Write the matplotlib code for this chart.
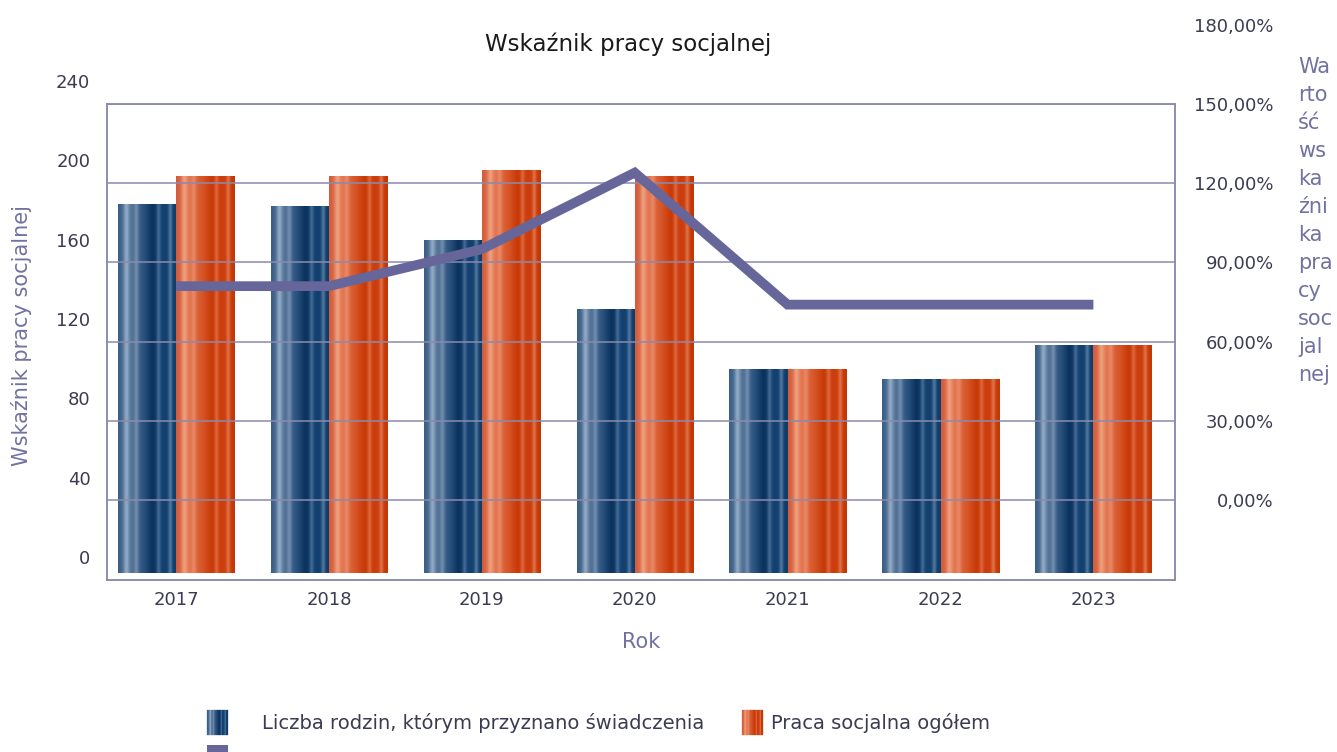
import numpy as np
import matplotlib
matplotlib.use("Agg")
import matplotlib.pyplot as plt
from matplotlib.legend_handler import HandlerBase
from matplotlib.patches import Rectangle

# ---------------- data ----------------
years = ["2017", "2018", "2019", "2020", "2021", "2022", "2023"]
families = [178, 177, 160, 125, 95, 90, 107]          # Liczba rodzin, którym przyznano świadczenia
social_work = [192, 192, 195, 192, 95, 90, 107]       # Praca socjalna ogółem
index_pct = [0.81, 0.81, 0.95, 1.24, 0.74, 0.74, 0.74]  # Wartość wskaźnika pracy socjalnej
left_ticks = [0, 40, 80, 120, 160, 200, 240]
right_ticks = [0.0, 0.3, 0.6, 0.9, 1.2, 1.5, 1.8]
grid_ticks = [0.0, 0.3, 0.6, 0.9, 1.2, 1.5]

title = "Wskaźnik pracy socjalnej"
ylabel_left = "Wskaźnik pracy socjalnej"
ylabel_right = "Wartość wskaźnika pracy socjalnej"
xlabel = "Rok"
lab_families = "Liczba rodzin, którym przyznano świadczenia"
lab_social = "Praca socjalna ogółem"

# ---------------- layout (pixels) ----------------
W, H = 1337, 752
FL, FR, FT, FB = 107, 1175, 104, 580
ZERO_L, PPU_L = 557, 1.983      # left scale: pixel row of 0, pixels per unit
ZERO_R, PPU_R = 500, 264.0      # right scale: pixel row of 0 %, pixels per 1.0
BAR_BASE = -8
BW = 0.38

FRAME_C = "#8a8aae"
TICK_C = "#3b3b52"
AXT_C = "#7272a0"
LINE_C = "#66669a"
plt.rcParams["font.family"] = ["DejaVu Sans"]


def fx(px):
    return px / W


def fy(py):
    return 1 - py / H


def profile(kind, n):
    t = np.linspace(0, 1, n)
    if kind == "blue":
        kx = [0, 0.2, 0.45, 0.58, 0.75, 1.0]
        kc = np.array([[58, 95, 135], [85, 115, 150], [40, 80, 125], [10, 50, 95],
                       [20, 65, 112], [15, 60, 105]]) / 255
        stripes = [(0.14, 0.55, 0.035, (0.78, 0.85, 0.93)), (0.31, 0.4, 0.03, (0.7, 0.78, 0.88)),
                   (0.69, 0.4, 0.025, (0.55, 0.68, 0.82)), (0.89, 0.45, 0.025, (0.6, 0.72, 0.85))]
    else:
        kx = [0, 0.2, 0.45, 0.6, 0.8, 1.0]
        kc = np.array([[212, 92, 58], [228, 118, 82], [215, 85, 40], [200, 58, 8],
                       [205, 62, 15], [195, 55, 5]]) / 255
        stripes = [(0.14, 0.6, 0.035, (0.97, 0.75, 0.62)), (0.3, 0.45, 0.03, (0.95, 0.68, 0.55)),
                   (0.69, 0.45, 0.025, (0.95, 0.6, 0.45)), (0.89, 0.5, 0.025, (0.96, 0.65, 0.5))]
    col = np.stack([np.interp(t, kx, kc[:, i]) for i in range(3)], axis=1)
    for pos, a, s, c in stripes:
        w = a * np.exp(-0.5 * ((t - pos) / s) ** 2)
        col = col * (1 - w[:, None]) + np.array(c)[None, :] * w[:, None]
    return np.clip(col, 0, 1)


class StripeHandler(HandlerBase):
    def __init__(self, kind, align):
        super().__init__()
        self.kind, self.align = kind, align

    def create_artists(self, legend, orig_handle, xdescent, ydescent, width, height, fontsize, trans):
        sw, sh = 21 * 0.72, 25 * 0.72
        x0 = -xdescent if self.align == "left" else -xdescent + width - sw
        y0 = -ydescent + height / 2 - sh / 2
        cols = profile(self.kind, 21)
        arts = []
        for i, c in enumerate(cols):
            r = Rectangle((x0 + i * sw / 21, y0), sw / 21, sh, facecolor=c, edgecolor=c,
                          lw=0.2, transform=trans)
            arts.append(r)
        return arts


class SquareHandler(HandlerBase):
    def create_artists(self, legend, orig_handle, xdescent, ydescent, width, height, fontsize, trans):
        s = 21 * 0.72
        x0 = -xdescent
        y0 = -ydescent + height / 2 - s / 2
        return [Rectangle((x0, y0), s, s, facecolor=orig_handle.get_color(), edgecolor="none",
                          transform=trans)]


fig = plt.figure(figsize=(W / 100, H / 100), dpi=100)

ax = fig.add_axes([fx(FL), fy(FB), (FR - FL) / W, (FB - FT) / H])
ax2 = ax.twinx()
x = np.arange(len(years))
xlim = ((FL - 176) / 152.9, (FR - 176) / 152.9)

# bars (left scale)
ax.set_ylim((ZERO_L - FB) / PPU_L, (ZERO_L - FT) / PPU_L)
b1 = ax.bar(x, np.array(families) - BAR_BASE, width=-BW, align="edge", bottom=BAR_BASE,
            facecolor="none", edgecolor="none", label=lab_families)
b2 = ax.bar(x, np.array(social_work) - BAR_BASE, width=BW, align="edge", bottom=BAR_BASE,
            facecolor="none", edgecolor="none", label=lab_social)
for cont, kind in ((b1, "blue"), (b2, "orange")):
    img = profile(kind, 116)[None, :, :]
    for r in cont:
        bb = r.get_bbox()
        im = ax.imshow(img, extent=(bb.xmin, bb.xmax, bb.ymin, bb.ymax),
                       aspect="auto", interpolation="bilinear", zorder=2)
        im.set_clip_path(r)
ax.set_xlim(*xlim)
ax.set_ylim((ZERO_L - FB) / PPU_L, (ZERO_L - FT) / PPU_L)
ax.set_yticks([])
ax.set_xticks(x)
ax.set_xticklabels(years)
ax.tick_params(axis="x", length=0, pad=8, labelsize=13, labelcolor=TICK_C)
ax.set_xlabel(xlabel, fontsize=15, color=AXT_C, labelpad=16.5)

# grid + line (right scale)
ax2.set_ylim((ZERO_R - FB) / PPU_R, (ZERO_R - FT) / PPU_R)
ax2.set_yticks(grid_ticks)
ax2.set_yticklabels([])
ax2.tick_params(axis="y", length=0)
ax2.grid(axis="y", color=FRAME_C, lw=1.1)
ln, = ax2.plot(x, index_pct, color=LINE_C, lw=7.0, solid_capstyle="butt",
               solid_joinstyle="miter", zorder=3)
ax2.set_xlim(*xlim)
for a in (ax, ax2):
    for s in a.spines.values():
        s.set_color(FRAME_C)
        s.set_linewidth(1.1)

# left tick labels
axl = fig.add_axes([fx(FL), 0, 0.0005, 1])
axl.set_ylim((ZERO_L - H) / PPU_L, ZERO_L / PPU_L)
axl.set_yticks(left_ticks)
axl.set_yticklabels([str(v) for v in left_ticks])
axl.set_xticks([])
axl.tick_params(axis="y", length=0, pad=12, labelsize=13, labelcolor=TICK_C)
axl.patch.set_visible(False)
for s in axl.spines.values():
    s.set_visible(False)

# right tick labels
axr = fig.add_axes([fx(FR), 0, 0.0005, 1])
axr.set_ylim((ZERO_R - H) / PPU_R, ZERO_R / PPU_R)
axr.yaxis.tick_right()
axr.set_yticks(right_ticks)
axr.set_yticklabels([f"{v * 100:.2f}".replace(".", ",") + "%" for v in right_ticks])
axr.set_xticks([])
axr.tick_params(axis="y", length=0, pad=70.5, labelsize=13, labelcolor=TICK_C)
for t in axr.get_yticklabels():
    t.set_horizontalalignment("right")
axr.patch.set_visible(False)
for s in axr.spines.values():
    s.set_visible(False)

# titles
fig.text(fx(628), fy(44), title, fontsize=16.5, color="#1a1a1a", ha="center", va="center")
fig.text(fx(22), fy(335), ylabel_left, fontsize=15, color=AXT_C, rotation=90,
         ha="center", va="center")
chunks = ["Wa", "rto", "ść", "ws", "ka", "źni", "ka", "pra", "cy", "soc", "jal", "nej"]
assert "".join(chunks) == ylabel_right.replace(" ", "")
fig.text(fx(1298), fy(57), "\n".join(chunks), fontsize=15, color=AXT_C, ha="left", va="top",
         linespacing=1.5)

# legend
fig.legend(handles=[b1, ln, b2], labels=[lab_families, "", lab_social], ncol=2,
           loc="upper left", bbox_to_anchor=(fx(207), fy(713)), frameon=False,
           borderpad=0, borderaxespad=0, fontsize=14, labelcolor=TICK_C,
           handlelength=2.42, handletextpad=0.41, columnspacing=0.62, labelspacing=0.72,
           handler_map={b1: StripeHandler("blue", "left"), b2: StripeHandler("orange", "right"),
                        ln: SquareHandler()})

fig.savefig("out.png", dpi=100)
